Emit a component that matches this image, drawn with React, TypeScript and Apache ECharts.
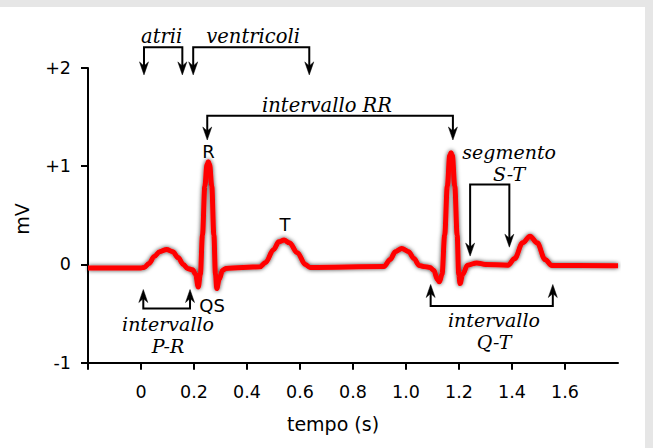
import React, { useEffect, useRef } from "react";
import * as echarts from "echarts";

// ECG trace: time (s) and voltage (mV)
const ecgTime = [
  -0.2, 0.0, 0.012, 0.03, 0.05, 0.07, 0.097, 0.12, 0.14, 0.16, 0.175, 0.195,
  0.206, 0.216, 0.224, 0.232, 0.241, 0.249, 0.254, 0.259, 0.267, 0.275, 0.281, 0.286, 0.295, 0.308, 0.32,
  0.449, 0.47, 0.5, 0.52, 0.54, 0.56, 0.59, 0.62, 0.638,
  0.917, 0.94, 0.96, 0.984, 1.01, 1.03, 1.05, 1.065, 1.09,
  1.105, 1.118, 1.126, 1.136, 1.146, 1.156, 1.165, 1.17, 1.175, 1.184, 1.193, 1.199, 1.204, 1.214, 1.232, 1.267, 1.3,
  1.385, 1.41, 1.44, 1.468, 1.495, 1.525, 1.55, 1.8,
];
const ecgMv = [
  -0.035, -0.035, -0.03, 0.01, 0.08, 0.13, 0.153, 0.13, 0.07, 0.0, -0.04, -0.055,
  -0.1, -0.23, -0.1, 0.3, 0.8, 1.02, 1.046, 1.02, 0.8, 0.3, -0.1, -0.245, -0.15, -0.06, -0.04,
  -0.024, 0.02, 0.15, 0.23, 0.248, 0.22, 0.12, 0.0, -0.03,
  -0.02, 0.05, 0.13, 0.163, 0.13, 0.06, -0.01, -0.02, -0.03,
  -0.06, -0.15, -0.177, -0.1, 0.3, 0.8, 1.11, 1.138, 1.11, 0.8, 0.3, -0.1, -0.194, -0.1, -0.007, 0.016, 0.0,
  -0.007, 0.06, 0.22, 0.288, 0.22, 0.05, -0.01, -0.014,
];
const xTickValues = [-0.2, 0, 0.2, 0.4, 0.6, 0.8, 1.0, 1.2, 1.4, 1.6];
const xLabelValues = [0, 0.2, 0.4, 0.6, 0.8, 1.0, 1.2, 1.4, 1.6];
const yTickValues = [-1, 0, 1, 2];

type Bracket = { x1: number; x2: number; bar: number; tip1: number; tip2: number; dir: "down" | "up" };
const brackets: Bracket[] = [
  { x1: 0.0113, x2: 0.156, bar: 2.212, tip1: 1.93, tip2: 1.93, dir: "down" },
  { x1: 0.197, x2: 0.635, bar: 2.212, tip1: 1.93, tip2: 1.93, dir: "down" },
  { x1: 0.25, x2: 1.177, bar: 1.515, tip1: 1.267, tip2: 1.267, dir: "down" },
  { x1: 1.242, x2: 1.39, bar: 0.815, tip1: 0.085, tip2: 0.176, dir: "down" },
  { x1: 0.0087, x2: 0.185, bar: -0.449, tip1: -0.255, tip2: -0.255, dir: "up" },
  { x1: 1.093, x2: 1.554, bar: -0.422, tip1: -0.204, tip2: -0.204, dir: "up" },
];

type Note = { text: string; x: number; y: number; italic: boolean; lh?: number };
const notes: Note[] = [
  { text: "atrii", x: 0.078, y: 2.317, italic: true },
  { text: "ventricoli", x: 0.423, y: 2.317, italic: true },
  { text: "intervallo RR", x: 0.702, y: 1.619, italic: true },
  { text: "R", x: 0.255, y: 1.145, italic: false },
  { text: "T", x: 0.543, y: 0.406, italic: false },
  { text: "QS", x: 0.268, y: -0.42, italic: false },
  { text: "segmento\nS-T", x: 1.389, y: 1.033, italic: true, lh: 22.5 },
  { text: "intervallo\nP-R", x: 0.102, y: -0.716, italic: true, lh: 22.5 },
  { text: "intervallo\nQ-T", x: 1.332, y: -0.675, italic: true, lh: 22.5 },
];

const SANS = '"DejaVu Sans", sans-serif';
const SERIF_IT = 'italic 19.5px "DejaVu Serif", serif';
const SERIF_IT_ML = 'italic 19px "DejaVu Serif", serif';

export default function App() {
  const ref = useRef<HTMLDivElement>(null);
  useEffect(() => {
    const chart = echarts.init(ref.current!, null, { renderer: "svg" });
    chart.setOption({
      animation: false,
      grid: { left: 88, right: 27, top: 61, bottom: 85.3 },
      xAxis: {
        type: "value",
        min: -0.2,
        max: 1.8,
        axisLine: { onZero: false, lineStyle: { color: "#000", width: 2 } },
        axisTick: { customValues: xTickValues, length: 7, lineStyle: { color: "#000", width: 2 } },
        axisLabel: {
          customValues: xLabelValues,
          margin: 20,
          color: "#000",
          fontSize: 17.5,
          fontFamily: SANS,
          formatter: (v: number) => (Math.abs(v) < 1e-9 ? "0" : v.toFixed(1)),
        },
        splitLine: { show: false },
      },
      yAxis: {
        type: "value",
        min: -1,
        max: 2,
        interval: 1,
        axisLine: { show: true, onZero: false, lineStyle: { color: "#000", width: 2 } },
        axisTick: { show: true, customValues: yTickValues, length: 7, lineStyle: { color: "#000", width: 2 } },
        axisLabel: {
          customValues: yTickValues,
          margin: 17,
          color: "#000",
          fontSize: 17.5,
          fontFamily: SANS,
          formatter: (v: number) => (v > 0 ? "+" + v : String(v)),
        },
        splitLine: { show: false },
      },
      series: [
        {
          type: "line",
          data: ecgTime.map((t, i) => [t, ecgMv[i]]),
          showSymbol: false,
          smooth: 0.35,
          smoothMonotone: "x",
          z: 3,
          lineStyle: {
            color: "#ff0000",
            width: 5,
            shadowColor: "rgba(0,0,0,0.75)",
            shadowBlur: 4,
          },
        },
      ],
    });

    const px = (x: number, y: number) => chart.convertToPixel({ gridIndex: 0 }, [x, y]) as number[];
    const elements: any[] = [];
    const lineStyle = { stroke: "#000", lineWidth: 2, fill: null };

    brackets.forEach((b) => {
      const s = b.dir === "down" ? -1 : 1;
      const a = px(b.x1, b.bar);
      const c = px(b.x2, b.bar);
      const t1 = px(b.x1, b.tip1);
      const t2 = px(b.x2, b.tip2);
      elements.push({
        type: "polyline",
        z: 10,
        shape: { points: [[t1[0], t1[1] + s * 8], [a[0], a[1]], [c[0], c[1]], [t2[0], t2[1] + s * 8]] },
        style: lineStyle,
      });
      [t1, t2].forEach((t) => {
        elements.push({
          type: "polygon",
          z: 11,
          shape: {
            points: [
              [t[0], t[1]],
              [t[0] - 4.5, t[1] + s * 13],
              [t[0], t[1] + s * 9],
              [t[0] + 4.5, t[1] + s * 13],
            ],
          },
          style: { fill: "#000", stroke: "#000", lineWidth: 0.5 },
        });
      });
    });

    notes.forEach((n) => {
      const p = px(n.x, n.y);
      elements.push({
        type: "text",
        z: 12,
        x: p[0],
        y: p[1],
        style: {
          text: n.text,
          font: n.italic ? (n.lh ? SERIF_IT_ML : SERIF_IT) : '18px "DejaVu Sans", sans-serif',
          lineHeight: n.lh,
          fill: "#000",
          align: "center",
          verticalAlign: "middle",
          textAlign: "center",
          textVerticalAlign: "middle",
        },
      });
    });

    elements.push({
      type: "text",
      z: 12,
      x: 21.7,
      y: 212,
      rotation: Math.PI / 2,
      style: {
        text: "mV",
        font: '19px "DejaVu Sans", sans-serif',
        fill: "#000",
        align: "center",
        verticalAlign: "middle",
        textAlign: "center",
        textVerticalAlign: "middle",
      },
    });
    elements.push({
      type: "text",
      z: 12,
      x: 333,
      y: 417,
      style: {
        text: "tempo (s)",
        font: '19px "DejaVu Sans", sans-serif',
        fill: "#000",
        align: "center",
        verticalAlign: "middle",
        textAlign: "center",
        textVerticalAlign: "middle",
      },
    });

    chart.setOption({ graphic: { elements } });
    return () => chart.dispose();
  }, []);

  return (
    <div style={{ position: "absolute", left: 0, top: 0, width: 653, height: 448, background: "#e6e6e6" }}>
      <div ref={ref} style={{ position: "absolute", left: 0, top: 7, width: 645, height: 441, background: "#fff" }} />
    </div>
  );
}
